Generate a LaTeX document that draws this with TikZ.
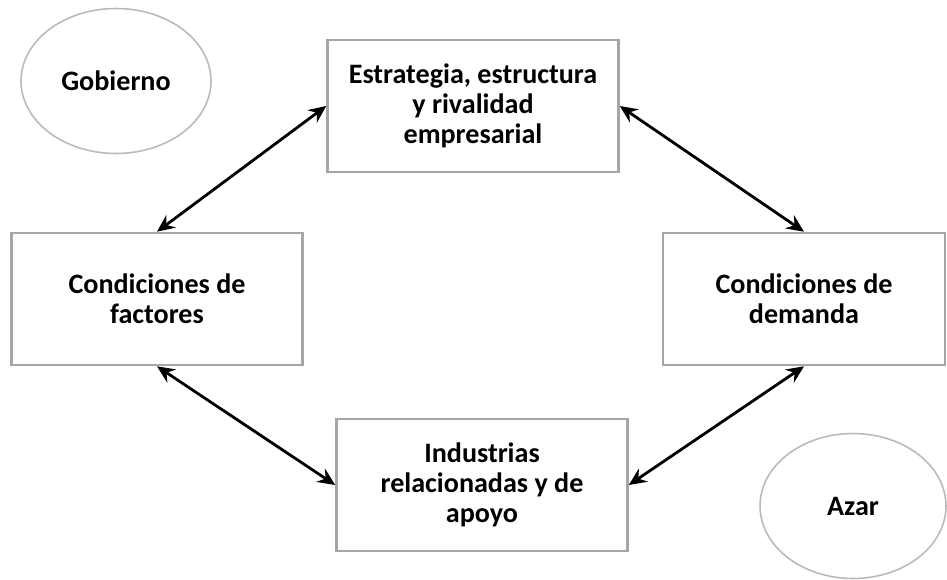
\documentclass[tikz,border=0pt]{standalone}
\usepackage{fontspec}
\setmainfont{Carlito}
\usetikzlibrary{arrows.meta,shapes.geometric}

\begin{document}
\begin{tikzpicture}[x=0.02cm,y=-0.02cm,
    every node/.style={align=center,font=\bfseries\fontsize{16}{17}\selectfont},
    caja/.style={draw=gray!70,line width=1.5pt,minimum width=5.82cm,minimum height=2.64cm},
    nube/.style={ellipse,draw=gray!55,line width=0.9pt,minimum width=3.8cm,minimum height=2.9cm},
    flecha/.style={{Stealth[length=10pt,width=9pt,inset=3.5pt]}-{Stealth[length=10pt,width=9pt,inset=3.5pt]},line width=1.6pt}]
      \useasboundingbox (0,0) rectangle (947,579);
      \node[nube] (gob) at (116,81) {Gobierno};
      \node[caja] (estr) at (473,106) {Estrategia, estructura\\y rivalidad\\empresarial};
      \node[caja] (fact) at (157,299) {Condiciones de\\factores};
      \node[caja,minimum width=5.64cm] (dem) at (804,299) {Condiciones de\\demanda};
      \node[caja] (ind) at (482,485) {Industrias\\relacionadas y de\\apoyo};
      \node[nube,minimum width=3.72cm] (azar) at (853,506) {Azar};
      \draw[flecha] (fact.north) -- (estr.west);
      \draw[flecha] (estr.east) -- (dem.north);
      \draw[flecha] (fact.south) -- (ind.west);
      \draw[flecha] (ind.east) -- (dem.south);
    \end{tikzpicture}
\end{document}
